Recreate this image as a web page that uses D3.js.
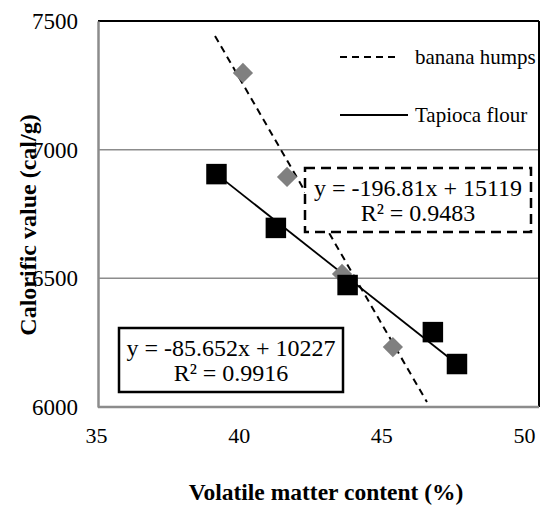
<!DOCTYPE html>
<html>
<head>
<meta charset="utf-8">
<script src="https://cdn.jsdelivr.net/npm/d3@7"></script>
<style>
body { margin: 0; background: #fff; }
text { font-family: "Liberation Serif", "Times New Roman", serif; }
</style>
</head>
<body>
<div id="chart-area"></div>
<script>
// Data
let bananaX = [39.93, 41.43, 43.30, 45.03];
let bananaY = [7298, 6894, 6517, 6233];
let tapiocaX = [39.03, 41.05, 43.49, 46.39, 47.21];
let tapiocaY = [6905, 6696, 6474, 6291, 6167];

// Trendline end points, as drawn
let bananaTrendX = [38.98, 46.19];
let bananaTrendY = [7442, 6019];
let tapiocaTrendX = [39.03, 47.21];
let tapiocaTrendY = [6905, 6167];

let xTicks = [35, 40, 45, 50];
let yTicks = [6000, 6500, 7000, 7500];

let bananaLabel = ["y = -196.81x + 15119", "R² = 0.9483"];
let tapiocaLabel = ["y = -85.652x + 10227", "R² = 0.9916"];

// SVG drawing area
let margin = {top: 21, right: 19, bottom: 98, left: 98};
let width = 558 - margin.left - margin.right,
    height = 505 - margin.top - margin.bottom;

let svg = d3.select("#chart-area").append("svg")
    .attr("width", 558)
    .attr("height", 505)
    .append("g")
    .attr("transform", "translate(" + margin.left + "," + margin.top + ")");

// Scales
let x = d3.scaleLinear().domain([35, 50]).range([0, width]);
let y = d3.scaleLinear().domain([6000, 7500]).range([height, 0]);
// tick labels in the picture sit a little left of the plot scale
let xLabel = d3.scaleLinear().domain([35, 50]).range([-2, 426]);

// Gridlines
svg.selectAll(".grid")
    .data(yTicks.slice(1, 3))
    .enter().append("line")
    .attr("x1", 0).attr("x2", width)
    .attr("y1", d => y(d)).attr("y2", d => y(d))
    .attr("stroke", "#8c8c8c").attr("stroke-width", 1.5);

// Frame: top and right black
svg.append("line").attr("x1", 0).attr("x2", width).attr("y1", 0).attr("y2", 0)
    .attr("stroke", "#000").attr("stroke-width", 2);
svg.append("line").attr("x1", width).attr("x2", width).attr("y1", 0).attr("y2", height)
    .attr("stroke", "#000").attr("stroke-width", 2);

// Axes
let xAxis = d3.axisBottom(xLabel).tickValues(xTicks).tickSize(0).tickPadding(20)
    .tickFormat(d3.format("d"));
let yAxis = d3.axisLeft(y).tickValues(yTicks).tickSize(0).tickPadding(20)
    .tickFormat(d3.format("d"));

let xAxisGroup = svg.append("g")
    .attr("transform", "translate(0," + height + ")")
    .call(xAxis);
xAxisGroup.select(".domain").remove();
svg.append("line").attr("x1", 0).attr("x2", width).attr("y1", height).attr("y2", height)
    .attr("stroke", "#8c8c8c").attr("stroke-width", 2.5);

let yAxisGroup = svg.append("g").call(yAxis);
yAxisGroup.select(".domain").attr("stroke", "#8c8c8c").attr("stroke-width", 2.5);

xAxisGroup.selectAll("text").attr("font-size", 22);
yAxisGroup.selectAll("text").attr("font-size", 23);
[xAxisGroup, yAxisGroup].forEach(g => {
    g.attr("font-family", "Liberation Serif, Times New Roman, serif");
    g.selectAll("text").attr("fill", "#000");
});

// Trendlines
let bananaTrend = bananaTrendX.map((v, i) => [x(v), y(bananaTrendY[i])]);
let tapiocaTrend = tapiocaTrendX.map((v, i) => [x(v), y(tapiocaTrendY[i])]);

svg.append("path")
    .attr("d", d3.line()(bananaTrend))
    .attr("stroke", "#000").attr("stroke-width", 2)
    .attr("stroke-dasharray", "7,5").attr("fill", "none");
svg.append("path")
    .attr("d", d3.line()(tapiocaTrend))
    .attr("stroke", "#000").attr("stroke-width", 1.8).attr("fill", "none");

// Markers
let banana = bananaX.map((v, i) => ({x: v, y: bananaY[i]}));
let tapioca = tapiocaX.map((v, i) => ({x: v, y: tapiocaY[i]}));

svg.selectAll(".diamond")
    .data(banana)
    .enter().append("path")
    .attr("class", "diamond")
    .attr("d", d3.symbol().type(d3.symbolSquare).size(205))
    .attr("transform", d => "translate(" + x(d.x) + "," + y(d.y) + ") rotate(45)")
    .attr("fill", "#808080");

svg.selectAll(".square")
    .data(tapioca)
    .enter().append("path")
    .attr("class", "square")
    .attr("d", d3.symbol().type(d3.symbolSquare).size(420))
    .attr("transform", d => "translate(" + x(d.x) + "," + y(d.y) + ")")
    .attr("fill", "#000");

// Equation boxes
let boxes = [
    {lines: bananaLabel, x0: 207, y0: 147, w: 226, h: 64, dash: "10,6"},
    {lines: tapiocaLabel, x0: 21, y0: 307, w: 224, h: 64, dash: null}
];
boxes.forEach(b => {
    svg.append("rect")
        .attr("x", b.x0).attr("y", b.y0)
        .attr("width", b.w).attr("height", b.h)
        .attr("fill", "#fff").attr("stroke", "#000").attr("stroke-width", 2.5)
        .attr("stroke-dasharray", b.dash);
    b.lines.forEach((t, i) => {
        svg.append("text")
            .attr("x", b.x0 + b.w / 2)
            .attr("y", b.y0 + 28 + i * 25)
            .attr("text-anchor", "middle")
            .attr("font-size", 24)
            .text(t);
    });
});

// Legend
let legend = [
    {name: "banana humps", dash: "7,5", y: 36, x2: 302},
    {name: "Tapioca flour", dash: null, y: 94, x2: 310}
];
legend.forEach(l => {
    svg.append("line")
        .attr("x1", 242).attr("x2", l.x2)
        .attr("y1", l.y).attr("y2", l.y)
        .attr("stroke", "#000").attr("stroke-width", 2)
        .attr("stroke-dasharray", l.dash);
    svg.append("text")
        .attr("x", 317).attr("y", l.y + 7)
        .attr("font-size", 21)
        .text(l.name);
});

// Axis titles
svg.append("text")
    .attr("x", (187 + 465) / 2 - margin.left).attr("y", height + 93)
    .attr("text-anchor", "middle")
    .attr("font-size", 23.5).attr("font-weight", "bold")
    .text("Volatile matter content (%)");

svg.append("text")
    .attr("transform", "translate(" + (36 - margin.left) + "," + (225 - margin.top) + ") rotate(-90)")
    .attr("text-anchor", "middle")
    .attr("font-size", 24).attr("font-weight", "bold")
    .text("Calorific value (cal/g)");
</script>
</body>
</html>
